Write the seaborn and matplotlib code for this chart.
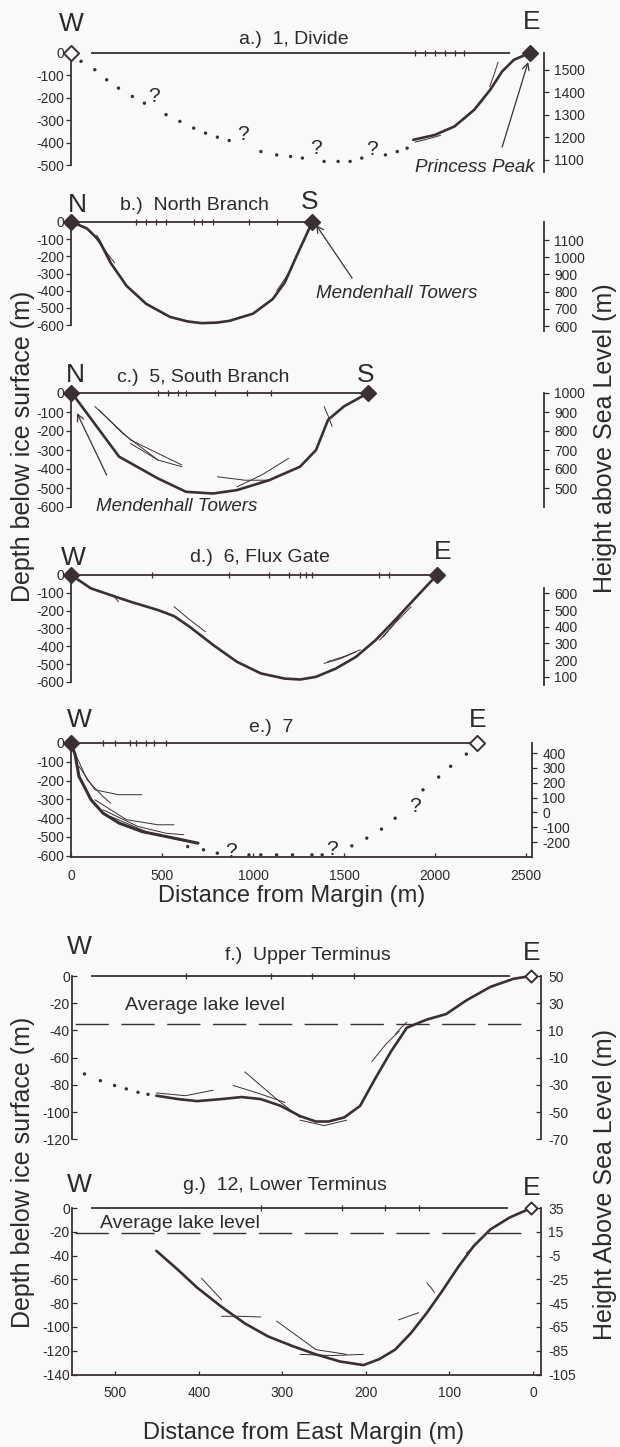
import matplotlib
matplotlib.use("Agg")
import matplotlib.pyplot as plt
import seaborn as sns

# ---------------------------------------------------------------- data ----
# a.) 1, Divide  (distance from west margin in m, depth below ice surface in m)
a_dot_dist = [55, 131, 196, 261, 337, 403, 522, 598, 674, 739, 804, 869,
              1043, 1130, 1206, 1271, 1390, 1467, 1533, 1597, 1727, 1792, 1846]
a_dot_depth = [-37, -74, -119, -156, -193, -223, -274, -304, -334, -356, -374, -389,
               -438, -453, -460, -467, -482, -482, -482, -467, -453, -438, -423]
a_bed_dist = [1880, 1999, 2107, 2215, 2303, 2368, 2433, 2520]
a_bed_depth = [-386, -364, -326, -252, -163, -82, -30, 0]
a_q_dist = [456, 945, 1347, 1651]
a_q_depth = [-193, -363, -423, -430]
a_sound = [1890, 1945, 2000, 2055, 2107, 2161]
a_thin = [([1890, 1960, 2030], [-396, -382, -366]),
          ([2150, 2210, 2262], [-300, -258, -212]),
          ([2300, 2322, 2346], [-150, -100, -40])]
a_ends = [0, 2520]
a_right_ticks = [1100, 1200, 1300, 1400, 1500]

# b.) North Branch
b_dist = [5, 88, 153, 218, 305, 413, 544, 640, 717, 800, 869, 1000, 1108, 1174, 1238, 1325]
b_depth = [0, -38, -105, -238, -371, -476, -552, -578, -588, -585, -575, -533, -448, -352, -200, 0]
b_sound = [357, 412, 467, 522, 676, 720, 780, 978, 1132]
b_thin = [([110, 175, 240], [-57, -150, -238]),
          ([142, 180, 218], [-76, -150, -229]),
          ([1130, 1175, 1217], [-400, -330, -262])]
b_ends = [0, 1325]
b_right_ticks = [600, 700, 800, 900, 1000, 1100]

# c.) 5, South Branch
c_dist = [5, 264, 478, 632, 780, 912, 1088, 1258, 1346, 1412, 1500, 1632]
c_depth = [0, -335, -450, -520, -529, -511, -459, -388, -300, -141, -70, 0]
c_sound = [478, 533, 588, 632, 791, 967, 1099]
c_thin = [([131, 327, 609], [-71, -247, -379]),
          ([153, 283, 478], [-88, -212, -353]),
          ([326, 478, 609], [-265, -353, -388]),
          ([804, 956, 1087], [-441, -459, -459]),
          ([1195, 1050, 912], [-344, -430, -494]),
          ([1390, 1412, 1434], [-71, -120, -176])]
c_ends = [0, 1632]
c_right_ticks = [500, 600, 700, 800, 900, 1000]

# d.) 6, Flux Gate
d_dist = [0, 109, 218, 326, 478, 566, 652, 782, 912, 1043, 1174, 1260, 1346,
          1456, 1565, 1673, 1780, 1890, 2010]
d_depth = [0, -75, -113, -150, -197, -231, -291, -394, -488, -553, -582, -587, -572,
           -525, -460, -366, -253, -131, 0]
d_sound = [445, 868, 1088, 1198, 1258, 1291, 1324, 1692, 1747]
d_thin = [([229, 245, 261], [-113, -130, -150]),
          ([566, 650, 739], [-178, -250, -319]),
          ([1390, 1480, 1565], [-497, -470, -432]),
          ([1410, 1500, 1590], [-487, -458, -420]),
          ([1695, 1780, 1868], [-366, -270, -178]),
          ([1716, 1770, 1825], [-347, -280, -206])]
d_ends = [0, 2010]
d_right_ticks = [100, 200, 300, 400, 500, 600]

# e.) 7
e_dist = [0, 22, 44, 88, 110, 176, 264, 390, 566, 698]
e_depth = [0, -60, -178, -260, -302, -373, -426, -471, -506, -533]
e_thin = [([22, 88, 175, 218], [-53, -195, -284, -320]),
          ([44, 131, 261, 390], [-124, -249, -275, -275]),
          ([131, 305, 478, 566], [-302, -408, -435, -435]),
          ([175, 368, 522, 620], [-355, -444, -480, -488]),
          ([218, 434, 588, 631], [-391, -480, -515, -524])]
e_dot_dist = [641, 728, 804, 978, 1043, 1130, 1217, 1324, 1380,
              1543, 1625, 1706, 1781, 1934, 2020, 2086, 2172]
e_dot_depth = [-551, -568, -586, -595, -595, -595, -595, -595, -595,
               -547, -506, -458, -400, -249, -181, -124, -59]
e_q_dist = [880, 1434, 1890]
e_q_depth = [-577, -568, -337]
e_sound = [176, 242, 324, 357, 412, 456, 522]
e_ends = [0, 2230]
e_right_ticks = [-200, -100, 0, 100, 200, 300, 400]
e_x_ticks = [0, 500, 1000, 1500, 2000, 2500]

# f.) Upper Terminus (distance from east margin in m)
f_dist = [451, 425, 402, 373, 349, 326, 302, 279, 260, 245, 226, 207, 189, 170,
          151, 127, 104, 80, 51, 23, 2]
f_depth = [-88, -90.5, -92, -90.5, -89, -90.5, -95.5, -103, -107, -107, -104,
           -95.5, -75.5, -55.5, -38, -32, -28, -18, -8, -2, 0]
f_dot_dist = [537, 518, 501, 487, 473, 461]
f_dot_depth = [-72, -77, -80.5, -83, -85.5, -87]
f_sound = [415, 314, 265, 214]
f_thin = [([451, 416, 383], [-86, -88, -84]),
          ([359, 330, 297], [-80.5, -86, -93]),
          ([345, 307, 279], [-70.5, -90.5, -104]),
          ([279, 250, 223], [-106, -110, -106]),
          ([193, 176, 160], [-63, -50, -40.5]),
          ([165, 158, 151], [-43, -38, -34])]
f_lake = -35
f_ends = [2]
f_left_ticks = [-120, -100, -80, -60, -40, -20, 0]
f_right_ticks = [-70, -50, -30, -10, 10, 30, 50]

# g.) 12, Lower Terminus
g_dist = [451, 425, 402, 373, 345, 317, 288, 260, 231, 203, 184, 165, 146, 127,
          108, 89, 71, 51, 28, 2]
g_depth = [-36, -52, -67, -83, -97, -108, -116, -123, -129, -132, -127, -119,
           -105, -88, -69, -49, -32, -18, -8, 0]
g_sound = [326, 229, 177, 136]
g_thin = [([397, 385, 373], [-59, -68, -77]),
          ([373, 350, 326], [-91, -91, -91.6]),
          ([307, 260, 223], [-95, -119, -123]),
          ([279, 240, 203], [-123, -124, -123]),
          ([161, 149, 137], [-94, -91, -88]),
          ([127, 122, 118], [-63, -67, -71]),
          ([80, 75, 71], [-38, -35, -32])]
g_lake = -21
g_ends = [2]
g_left_ticks = [-140, -120, -100, -80, -60, -40, -20, 0]
g_right_ticks = [-105, -85, -65, -45, -25, -5, 15, 35]
g_x_ticks = [500, 400, 300, 200, 100, 0]

# ------------------------------------------------------------- styling ----
sns.set_theme(style="ticks")
plt.rcParams['font.family'] = ['Liberation Sans', 'DejaVu Sans']
plt.rcParams['axes.unicode_minus'] = False

INK = '#3a3032'
TXT = '#2e2a2b'
TICK = 10
W, H = 620, 1447
fig = plt.figure(figsize=(W / 100, H / 100), dpi=100, facecolor='#f9f9f7')


def fx(px):
    return px / W


def fy(py):
    return 1 - py / H


def make_panel(xpx, xlim, y0, ppm, ylim):
    top = y0 - ylim[1] * ppm
    bot = y0 - ylim[0] * ppm
    ax = fig.add_axes([fx(xpx[0]), fy(bot), (xpx[1] - xpx[0]) / W, (bot - top) / H])
    ax.set_xlim(*xlim)
    ax.set_ylim(*ylim)
    ax.patch.set_alpha(0)
    for s in ['top', 'right', 'bottom']:
        ax.spines[s].set_visible(False)
    ax.spines['left'].set_color(INK)
    ax.spines['left'].set_linewidth(1.3)
    ax.tick_params(axis='x', bottom=False, labelbottom=False)
    return ax


def left_axis(ax, ticks, direction='out'):
    ax.set_yticks(ticks)
    ax.set_yticklabels([str(t) for t in ticks])
    ax.spines['left'].set_bounds(min(ticks), max(ticks))
    ax.tick_params(axis='y', left=True, direction=direction, length=3.5, width=0.9,
                   labelsize=TICK, pad=1.5, colors=TXT)


def right_axis(ax, a, b, ticks, bounds, direction='out'):
    r = ax.twinx()
    lo, hi = ax.get_ylim()
    r.set_ylim(a + b * lo, a + b * hi)
    for s in ['top', 'left', 'bottom']:
        r.spines[s].set_visible(False)
    r.spines['right'].set_bounds(*bounds)
    r.spines['right'].set_color(INK)
    r.spines['right'].set_linewidth(1.3)
    r.set_yticks(ticks)
    r.set_yticklabels([str(t) for t in ticks])
    r.tick_params(axis='y', right=True, direction=direction, length=3.5, width=0.9,
                  labelsize=TICK, pad=4 if direction == 'out' else 5, colors=TXT)
    r.grid(False)
    return r


def profile(ax, x, y, lw=1.9):
    sns.lineplot(x=x, y=y, sort=False, estimator=None, color=INK, lw=lw, ax=ax,
                 legend=False)


def thin(ax, segs):
    for xs, ys in segs:
        sns.lineplot(x=xs, y=ys, sort=False, estimator=None, color=INK, lw=0.7,
                     ax=ax, legend=False)


def surface(ax, x0, x1, sound):
    ax.plot([x0, x1], [0, 0], color=INK, lw=1.3, solid_capstyle='butt')
    ax.plot(sound, [0] * len(sound), ls='none', marker='|', ms=4, mew=0.9, color=INK)


def ends(ax, xs, filled, s=60):
    for x, f in zip(xs, filled):
        ax.scatter([x], [0], marker='D', s=s, facecolor=INK if f else 'white',
                   edgecolor=INK, linewidth=1.4, zorder=6, clip_on=False)


def dots(ax, x, y):
    sns.scatterplot(x=x, y=y, s=6, color=INK, edgecolor='none', ax=ax, legend=False)


def qmarks(ax, x, y):
    for xx, yy in zip(x, y):
        ax.text(xx, yy, '?', fontsize=15, ha='center', va='center', color=TXT)


def arrow(ax, tail, head):
    ax.annotate('', xy=head, xytext=tail,
                arrowprops=dict(arrowstyle='->', lw=0.9, color=INK,
                                mutation_scale=12, shrinkA=0, shrinkB=0))


def lake(ax, x0, x1, y):
    ax.plot([x0, x1], [y, y], color=INK, lw=1.0, dashes=(24, 9))


def label(px, py, s, size, **kw):
    fig.text(fx(px), fy(py), s, fontsize=size, color=TXT, ha=kw.pop('ha', 'center'),
             va=kw.pop('va', 'center'), **kw)


LR = (71, 544)
BIG = 19
TITLE = 14
ANN = 13.5

# ---- a
ax = make_panel(LR, (0, 2598), 53, 0.225, (-533, 31))
left_axis(ax, list(range(-500, 1, 100)))
right_axis(ax, 1575, 1.0, a_right_ticks, (1048, 1575))
surface(ax, 110, 2412, a_sound)
dots(ax, a_dot_dist, a_dot_depth)
thin(ax, a_thin)
profile(ax, a_bed_dist, a_bed_depth)
qmarks(ax, a_q_dist, a_q_depth)
arrow(ax, (2368, -418), (2511, -40))
ax.set_xlabel(''); ax.set_ylabel('')
ends(ax, a_ends, [False, True])
label(71, 24, 'W', BIG)
label(532, 22, 'E', BIG)
label(294, 40, 'a.)  1, Divide', TITLE)
label(475, 168, 'Princess Peak', ANN, style='italic')

# ---- b
ax = make_panel(LR, (0, 2598), 222, 0.172, (-640, 41))
left_axis(ax, list(range(-600, 1, 100)))
right_axis(ax, 1205, 1.0, b_right_ticks, (572, 1205))
surface(ax, 0, 1325, b_sound)
thin(ax, b_thin)
profile(ax, b_dist, b_depth)
arrow(ax, (1544, -326), (1346, -17))
ax.set_xlabel(''); ax.set_ylabel('')
ends(ax, b_ends, [True, True])
label(77, 205, 'N', BIG)
label(310, 202, 'S', BIG)
label(194, 205, 'b.)  North Branch', TITLE)
label(397, 293, 'Mendenhall Towers', ANN, style='italic')

# ---- c
ax = make_panel(LR, (0, 2598), 393, 0.19, (-616, 37))
left_axis(ax, list(range(-600, 1, 100)))
right_axis(ax, 1000, 1.0, c_right_ticks, (400, 1000))
surface(ax, 0, 1632, c_sound)
thin(ax, c_thin)
profile(ax, c_dist, c_depth)
arrow(ax, (196, -432), (33, -106))
ax.set_xlabel(''); ax.set_ylabel('')
ends(ax, c_ends, [True, True])
label(75, 375, 'N', BIG)
label(366, 375, 'S', BIG)
label(203, 378, 'c.)  5, South Branch', TITLE)
label(177, 507, 'Mendenhall Towers', ANN, style='italic')

# ---- d
ax = make_panel(LR, (0, 2598), 575, 0.178, (-635, 39))
left_axis(ax, list(range(-600, 1, 100)))
right_axis(ax, 710, 1.066, d_right_ticks, (50, 632))
surface(ax, 0, 2010, d_sound)
thin(ax, d_thin)
profile(ax, d_dist, d_depth)
ax.set_xlabel(''); ax.set_ylabel('')
ends(ax, d_ends, [True, True])
label(73, 558, 'W', BIG)
label(443, 552, 'E', BIG)
label(260, 557, 'd.)  6, Flux Gate', TITLE)

# ---- e
ax = make_panel((71, 532), (0, 2533), 743, 0.188, (-604, 37))
left_axis(ax, list(range(-600, 1, 100)))
ax.spines['left'].set_bounds(-604, 0)
ax.spines['bottom'].set_visible(True)
ax.spines['bottom'].set_color(INK)
ax.spines['bottom'].set_linewidth(1.3)
ax.set_xticks(e_x_ticks)
ax.set_xticklabels([str(t) for t in e_x_ticks])
ax.tick_params(axis='x', bottom=True, labelbottom=True, direction='in', length=3,
               width=0.9, labelsize=TICK, pad=9, colors=TXT)
right_axis(ax, 468, 1.267, e_right_ticks, (-297, 468))
surface(ax, 0, 2215, e_sound)
thin(ax, e_thin)
profile(ax, e_dist, e_depth, lw=2.2)
dots(ax, e_dot_dist, e_dot_depth)
qmarks(ax, e_q_dist, e_q_depth)
ax.set_xlabel(''); ax.set_ylabel('')
ends(ax, e_ends, [True, False])
label(79, 720, 'W', BIG)
label(478, 720, 'E', BIG)
label(271, 728, 'e.)  7', TITLE)
label(292, 896, 'Distance from Margin (m)', 17)

# ---- f
TR = (72, 541)
ax = make_panel(TR, (552, -9.6), 976, 1.36, (-120, 5))
left_axis(ax, f_left_ticks, direction='in')
right_axis(ax, 50, 1.0, f_right_ticks, (-70, 50), direction='in')
surface(ax, 529, 28, f_sound)
lake(ax, 549, 1, f_lake)
dots(ax, f_dot_dist, f_dot_depth)
thin(ax, f_thin)
profile(ax, f_dist, f_depth)
ax.set_xlabel(''); ax.set_ylabel('')
ends(ax, f_ends, [False], s=38)
label(79, 947, 'W', BIG)
label(532, 953, 'E', BIG)
label(308, 955, 'f.)  Upper Terminus', TITLE)
label(205, 1005, 'Average lake level', 14)

# ---- g
ax = make_panel(TR, (552, -9.6), 1208, 1.19, (-140, 5))
left_axis(ax, g_left_ticks, direction='in')
ax.spines['bottom'].set_visible(True)
ax.spines['bottom'].set_color(INK)
ax.spines['bottom'].set_linewidth(1.3)
ax.set_xticks(g_x_ticks)
ax.set_xticklabels([str(t) for t in g_x_ticks])
ax.tick_params(axis='x', bottom=True, labelbottom=True, direction='in', length=3,
               width=0.9, labelsize=TICK, pad=8, colors=TXT)
right_axis(ax, 35, 1.0, g_right_ticks, (-105, 35), direction='in')
surface(ax, 529, 30, g_sound)
lake(ax, 549, 2, g_lake)
thin(ax, g_thin)
profile(ax, g_dist, g_depth)
ax.set_xlabel(''); ax.set_ylabel('')
ends(ax, g_ends, [False], s=38)
label(79, 1185, 'W', BIG)
label(532, 1188, 'E', BIG)
label(285, 1185, 'g.)  12, Lower Terminus', TITLE)
label(180, 1223, 'Average lake level', 14)
label(304, 1433, 'Distance from East Margin (m)', 17)

# ---- shared axis titles
label(23, 446, 'Depth below ice surface (m)', 18, rotation=90)
label(605, 438, 'Height above Sea Level (m)', 18, rotation=90)
label(23, 1172, 'Depth below ice surface (m)', 18, rotation=90)
label(605, 1185, 'Height Above Sea Level (m)', 18, rotation=90)

fig.savefig('out.png', dpi=100, facecolor=fig.get_facecolor())
